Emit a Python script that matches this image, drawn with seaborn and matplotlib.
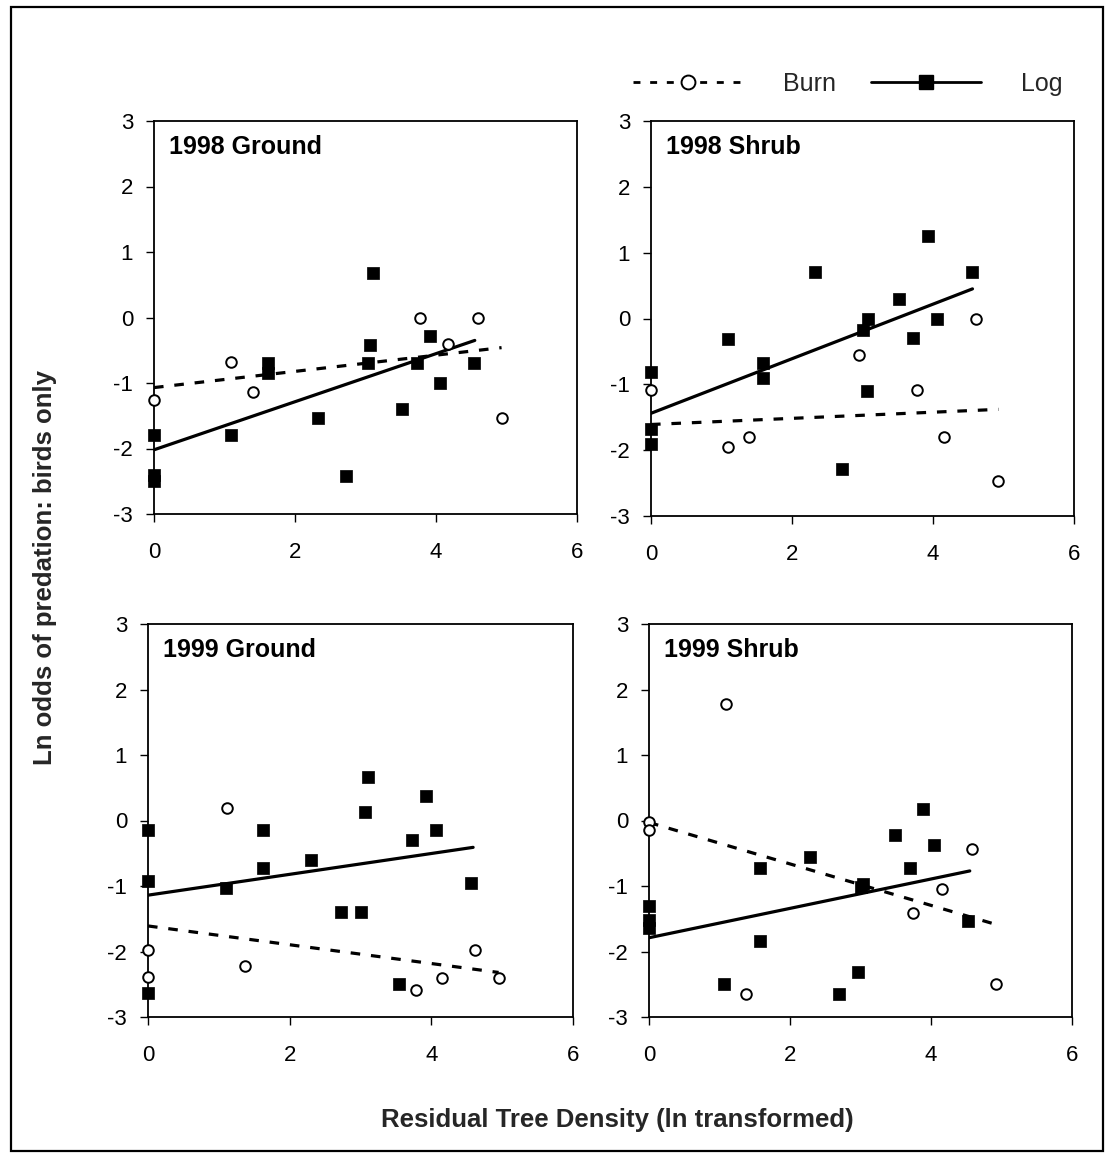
import matplotlib
matplotlib.use("Agg")
import matplotlib.pyplot as plt
from matplotlib.lines import Line2D
from matplotlib.patches import Rectangle
import seaborn as sns
import pandas as pd

sns.set_theme(style="ticks")
plt.rcParams['font.family'] = ['Liberation Sans', 'DejaVu Sans']

# ---------------- data ----------------
panel_titles = ["1998 Ground", "1998 Shrub", "1999 Ground", "1999 Shrub"]
x_ticks = [0, 2, 4, 6]
y_ticks = [-3, -2, -1, 0, 1, 2, 3]
legend_labels = ["Burn", "Log"]

# 1998 Ground
g98_burn_x = [0.0, 1.09, 1.41, 3.77, 4.60, 4.17, 4.93]
g98_burn_y = [-1.26, -0.68, -1.13, 0.0, 0.0, -0.40, -1.53]
g98_log_x = [3.10, 3.06, 1.61, 1.61, 3.91, 3.73, 4.54, 4.06, 3.52, 2.32, 1.09, 0.0, 0.0, 0.0, 2.72, 3.03]
g98_log_y = [0.68, -0.42, -0.69, -0.84, -0.28, -0.69, -0.69, -1.00, -1.40, -1.53, -1.80, -1.79, -2.40, -2.50, -2.42, -0.70]
g98_burn_fit_x = [0.0, 4.93]
g98_burn_fit_y = [-1.07, -0.46]
g98_log_fit_x = [0.0, 4.55]
g98_log_fit_y = [-2.02, -0.35]

# 1998 Shrub
s98_burn_x = [0.0, 1.09, 1.39, 3.77, 4.16, 4.61, 4.92, 2.95]
s98_burn_y = [-1.09, -1.95, -1.80, -1.09, -1.80, 0.0, -2.47, -0.56]
s98_log_x = [0.0, 0.0, 0.0, 1.09, 1.59, 1.59, 2.32, 2.71, 3.00, 3.08, 3.06, 3.52, 3.72, 3.93, 4.06, 4.55]
s98_log_y = [-0.81, -1.68, -1.91, -0.31, -0.67, -0.90, 0.70, -2.28, -0.17, 0.0, -1.10, 0.30, -0.29, 1.26, 0.0, 0.70]
s98_burn_fit_x = [0.0, 4.93]
s98_burn_fit_y = [-1.61, -1.38]
s98_log_fit_x = [0.0, 4.56]
s98_log_fit_y = [-1.44, 0.45]

# 1999 Ground
g99_burn_x = [1.11, 0.0, 0.0, 1.37, 3.79, 4.15, 4.62, 4.95]
g99_burn_y = [0.19, -1.97, -2.39, -2.22, -2.59, -2.41, -1.98, -2.41]
g99_log_x = [0.0, 0.0, 0.0, 1.10, 1.62, 1.62, 2.30, 2.72, 3.00, 3.07, 3.10, 3.73, 3.93, 4.06, 4.56, 3.55]
g99_log_y = [-0.14, -0.93, -2.64, -1.03, -0.15, -0.72, -0.61, -1.40, -1.40, 0.13, 0.67, -0.30, 0.37, -0.15, -0.95, -2.50]
g99_burn_fit_x = [0.0, 4.95]
g99_burn_fit_y = [-1.61, -2.32]
g99_log_fit_x = [0.0, 4.59]
g99_log_fit_y = [-1.14, -0.41]

# 1999 Shrub
s99_burn_x = [0.0, 0.0, 1.09, 1.37, 3.74, 4.15, 4.58, 4.92]
s99_burn_y = [-0.02, -0.15, 1.78, -2.65, -1.41, -1.05, -0.44, -2.50]
s99_log_x = [0.0, 0.0, 0.0, 1.07, 1.58, 1.58, 2.29, 2.70, 2.97, 3.04, 3.00, 3.49, 3.70, 3.89, 4.04, 4.52]
s99_log_y = [-1.31, -1.52, -1.64, -2.50, -0.73, -1.84, -0.55, -2.65, -2.31, -0.97, -1.02, -0.22, -0.73, 0.18, -0.37, -1.53]
s99_burn_fit_x = [0.0, 4.93]
s99_burn_fit_y = [-0.03, -1.59]
s99_log_fit_x = [0.0, 4.55]
s99_log_fit_y = [-1.79, -0.77]

panels = [
    (g98_burn_x, g98_burn_y, g98_log_x, g98_log_y, g98_burn_fit_x, g98_burn_fit_y, g98_log_fit_x, g98_log_fit_y),
    (s98_burn_x, s98_burn_y, s98_log_x, s98_log_y, s98_burn_fit_x, s98_burn_fit_y, s98_log_fit_x, s98_log_fit_y),
    (g99_burn_x, g99_burn_y, g99_log_x, g99_log_y, g99_burn_fit_x, g99_burn_fit_y, g99_log_fit_x, g99_log_fit_y),
    (s99_burn_x, s99_burn_y, s99_log_x, s99_log_y, s99_burn_fit_x, s99_burn_fit_y, s99_log_fit_x, s99_log_fit_y),
]

# ---------------- layout ----------------
W, H = 1108, 1154
fig = plt.figure(figsize=(W / 100, H / 100), dpi=100)
fig.patch.set_facecolor("white")

# axes boxes in pixels: left, top, right, bottom
boxes = [(154, 121, 577, 514), (651, 121, 1074, 516),
         (148, 624, 573, 1017), (649, 624, 1072, 1017)]

DASH = (0, (3, 3.4))
for (l, t, r, b), title, p in zip(boxes, panel_titles, panels):
    bx, by, lx, ly, bfx, bfy, lfx, lfy = p
    ax = fig.add_axes([l / W, 1 - b / H, (r - l) / W, (b - t) / H])
    ax.set_facecolor("white")
    sns.lineplot(x=lfx, y=lfy, ax=ax, color="black", lw=2.3, estimator=None)
    sns.lineplot(x=bfx, y=bfy, ax=ax, color="black", lw=2.3, linestyle=DASH, estimator=None)
    sns.scatterplot(x=lx, y=ly, ax=ax, marker="s", s=76, color="black",
                    edgecolor="black", linewidth=0.5, clip_on=False, zorder=3)
    sns.scatterplot(x=bx, y=by, ax=ax, marker="o", s=58, facecolor="white",
                    edgecolor="black", linewidth=1.4, clip_on=False, zorder=4)
    ax.set_xlim(0, 6)
    ax.set_ylim(-3, 3)
    ax.set_xticks(x_ticks)
    ax.set_yticks(y_ticks)
    ax.set_xticklabels([str(v) for v in x_ticks])
    ax.set_yticklabels([str(v) for v in y_ticks])
    ax.tick_params(axis="both", direction="out", length=6, width=1.0,
                   labelsize=16, colors="black")
    ax.tick_params(axis="x", pad=14)
    ax.tick_params(axis="y", pad=9)
    for sp in ax.spines.values():
        sp.set_visible(True)
        sp.set_linewidth(1.3)
        sp.set_color("black")
    ax.set_xlabel("")
    ax.set_ylabel("")
    ax.text(0.035, 0.935, title, transform=ax.transAxes, ha="left", va="center",
            fontsize=18, fontweight="bold", color="black")

# axis labels
fig.text(617 / W, 1 - 1120 / H, "Residual Tree Density (ln transformed)",
         ha="center", va="center", fontsize=18.5, fontweight="bold")
fig.text(45 / W, 1 - 567 / H, "Ln odds of predation: birds only",
         ha="center", va="center", rotation=90, fontsize=18.5, fontweight="bold")

# legend
handles = [
    Line2D([], [], color="black", lw=2.0, linestyle=(0, (2.5, 3.5)), marker="o",
           markersize=10, markerfacecolor="white", markeredgecolor="black",
           markeredgewidth=1.4),
    Line2D([], [], color="black", lw=2.0, linestyle="-", marker="s",
           markersize=10, markerfacecolor="black", markeredgecolor="black"),
]
fig.legend(handles, legend_labels, loc="center", bbox_to_anchor=(848 / W, 1 - 84 / H),
           ncol=2, frameon=False, fontsize=18, handlelength=4.4, handletextpad=1.6,
           columnspacing=1.4)

# outer border
fig.add_artist(Rectangle((11 / W, 1 - 1151 / H), (1103 - 11) / W, (1151 - 7) / H,
                         transform=fig.transFigure, fill=False, edgecolor="black",
                         linewidth=1.6))

fig.savefig("out.png", dpi=100, facecolor="white")
